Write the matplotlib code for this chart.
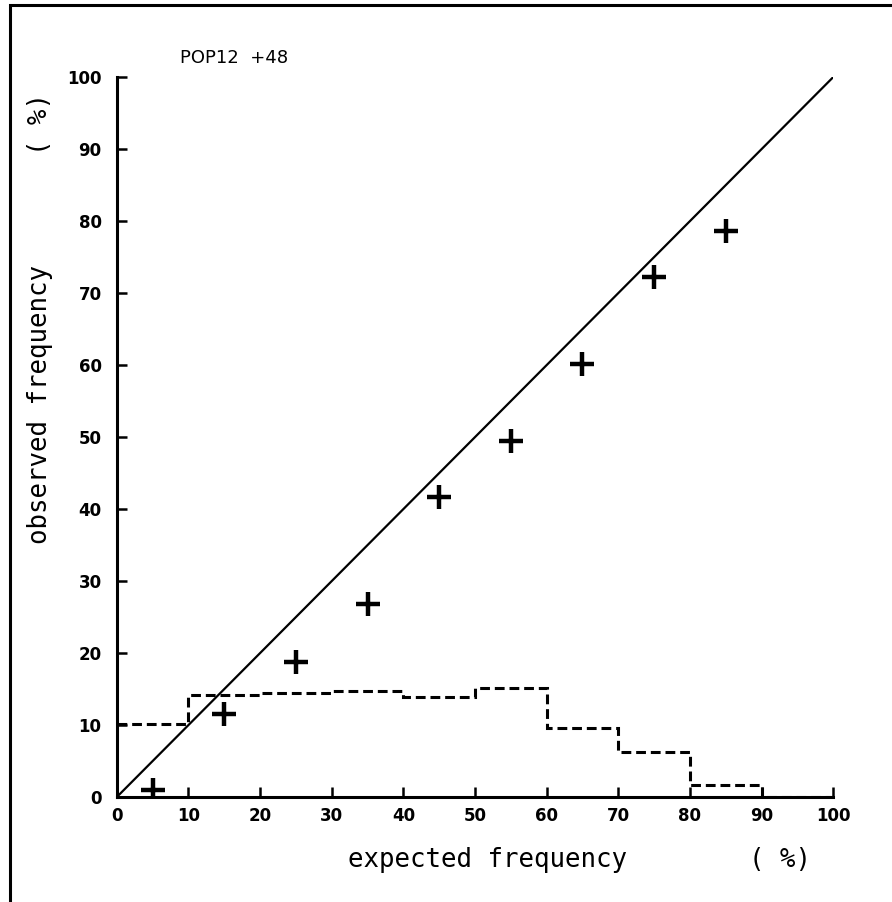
import matplotlib.pyplot as plt
from matplotlib.patches import Rectangle
import numpy as np

# data
expected = [5, 15, 25, 35, 45, 55, 65, 75, 85]
observed = [1.0, 11.6, 18.8, 26.8, 41.7, 49.4, 60.1, 72.3, 78.7]
bin_edges = [0, 10, 20, 30, 40, 50, 60, 70, 80, 90, 100]
bin_freq = [10.2, 14.2, 14.4, 14.7, 13.9, 15.1, 9.6, 6.2, 1.7, 0.0]
ticks = [0, 10, 20, 30, 40, 50, 60, 70, 80, 90, 100]

fig = plt.figure(figsize=(8.92, 9.02), dpi=100)
ax = fig.add_axes([0.131, 0.1164, 0.803, 0.798])

# frame round the picture (left and top show)
fig.patches.append(Rectangle((0.011, -0.05), 1.2, 1.044, transform=fig.transFigure,
                             fill=False, lw=2.2, ec='black'))

ax.plot([0, 100], [0, 100], color='black', lw=1.6)
ax.stairs(bin_freq, bin_edges, baseline=None, color='black', lw=2.2,
          linestyle=(0, (3.2, 1.6)))
ax.plot(expected, observed, '+', color='black', markersize=17, mew=3.2)

ax.set_xlim(0, 100)
ax.set_ylim(0, 100)
ax.spines['top'].set_visible(False)
ax.spines['right'].set_visible(False)
ax.spines['left'].set_linewidth(2.2)
ax.spines['bottom'].set_linewidth(2.2)
ax.set_xticks(ticks)
ax.set_yticks(ticks)
ax.tick_params(direction='in', length=7, width=1.8, labelsize=12)
ax.tick_params(axis='y', pad=11)
ax.tick_params(axis='x', pad=7)
for lab in ax.get_xticklabels() + ax.get_yticklabels():
    lab.set_fontweight('bold')

thin = dict(family='DejaVu Sans Mono', fontsize=18.5, color='black')
fig.text(0.546, 0.047, 'expected frequency', ha='center', va='center', **thin)
fig.text(0.874, 0.047, '( %)', ha='center', va='center', **thin)
fig.text(0.045, 0.551, 'observed frequency', rotation=90, ha='center', va='center', **thin)
fig.text(0.045, 0.8625, '( %)', rotation=90, ha='center', va='center', **thin)
fig.text(0.202, 0.936, 'POP12  +48', fontsize=13, ha='left', va='center')

fig.savefig('out.png', dpi=100)
